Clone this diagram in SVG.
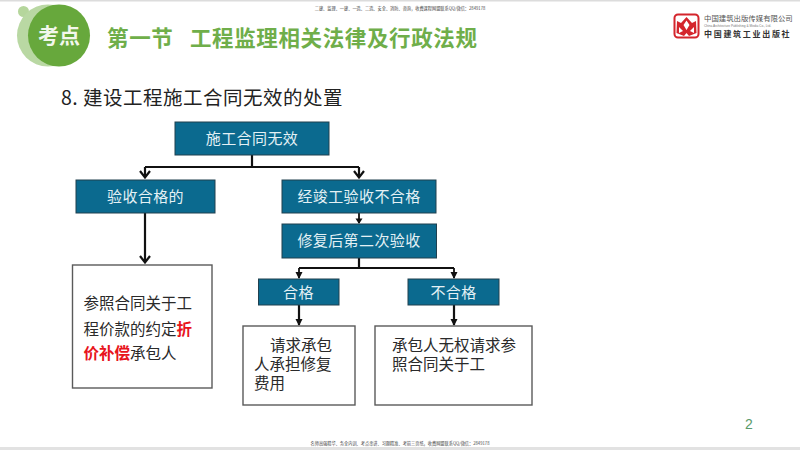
<svg xmlns="http://www.w3.org/2000/svg" width="800" height="450" viewBox="0 0 800 450">
<style>
text{font-family:"Noto Sans CJK SC","Liberation Sans",sans-serif}
.b{fill:#0b6a8f;stroke:#20404f;stroke-width:1}
.w{fill:#fff;stroke:#5a5a5a;stroke-width:1.4}
.bt{fill:#e4f1f5;font-size:15px;text-anchor:middle;letter-spacing:.4px}
.t{fill:#2a2a2a;font-size:15.5px}
.c{fill:none;stroke:#111;stroke-width:2.2}
.c2{fill:none;stroke:#111;stroke-width:1.8}
.s{fill:#444;font-size:4.2px;text-anchor:middle}
.r{fill:#e8141c;font-weight:700}
</style>
<rect width="800" height="450" fill="#fff"/>
<rect width="800" height="1.5" fill="#dcdcdc"/>
<rect y="447" width="800" height="3" fill="#e2e2e2"/>
<g id="badge">
<circle cx="23.500" cy="11.500" r="5.500" fill="#b5d69c"/>
<circle cx="48" cy="35.500" r="31" fill="#b9d8a3"/>
<circle cx="59" cy="35.500" r="31" fill="#67a83c"/>
<text x="59" y="42.500" font-size="21" font-weight="700" fill="#f2f7ec" text-anchor="middle">考点</text>
</g>
<text id="title" x="107" y="46" font-size="21.500" font-weight="700" fill="#6fae4a" xml:space="preserve" style="letter-spacing:.63px">第一节   工程监理相关法律及行政法规</text>
<text id="header-note" class="s" x="400" y="10">二建、监理、一建、一造、二造、安全、消防、咨询，收费课程网盟联系QQ/微信：2849178</text>
<g id="logo">
<rect x="674.500" y="14.500" width="24" height="23" rx="3.500" fill="#fff" stroke="#d4252c" stroke-width="2"/>
<path d="M686.500 17 L692 23 L696 21 L696.500 33 L689 36 L686.500 33 L684 36 L676.500 33 L677 21 L681 23 Z" fill="#d4252c"/>
<path d="M686.500 20.500 L689.500 25 L686.500 30 L683.500 25 Z M679 27 L683 31 L679 33 Z M694 27 L690 31 L694 33 Z" fill="#fff"/>
<text x="704" y="21" font-size="7.400" fill="#555">中国建筑出版传媒有限公司</text>
<text x="704" y="27" font-size="3.200" fill="#777" style="font-family:'Liberation Sans',sans-serif">China Architecture Publishing &amp; Media Co., Ltd.</text>
<text x="704" y="37" font-size="8" font-weight="700" fill="#333" style="letter-spacing:1.7px">中国建筑工业出版社</text>
</g>
<text id="heading" x="61" y="105" font-size="19.500" fill="#222" style="letter-spacing:.5px">8. 建设工程施工合同无效的处置</text>
<g id="connectors">
<path class="c" d="M252 155V167M145 167H359M145 167V177M359 167V177"/>
<path class="c" d="M140 171L145 177.500L150 171M354 171L359 177.500L364 171"/>
<path class="c" d="M145 213V262M140 256L145 262.500L150 256"/>
<path class="c2" d="M359 213V223"/>
<path d="M355.500 218.500H362.500L359 224Z" fill="#111"/>
<path class="c" d="M359 258V268"/>
<path class="c2" d="M299 268H454M299 268V278M454 268V278"/>
<path d="M295.500 272H302.500L299 279Z M450.500 272H457.500L454 279Z" fill="#111"/>
<path class="c" d="M299 305V325M454 305V325"/>
<path d="M295.500 319H302.500L299 326Z M450.500 319H457.500L454 326Z" fill="#111"/>
</g>
<g id="n1"><rect class="b" x="175" y="122" width="154" height="33"/><text class="bt" x="252" y="143.500">施工合同无效</text></g>
<g id="n2"><rect class="b" x="76" y="180" width="139" height="33"/><text class="bt" x="145.500" y="201.500">验收合格的</text></g>
<g id="n3"><rect class="b" x="282" y="180" width="154" height="33"/><text class="bt" x="359" y="201.500">经竣工验收不合格</text></g>
<g id="n4"><rect class="b" x="282" y="224" width="154.500" height="34"/><text class="bt" x="359" y="246">修复后第二次验收</text></g>
<g id="n5"><rect class="b" x="258.500" y="279" width="80.500" height="26"/><text class="bt" x="298.500" y="297.500">合格</text></g>
<g id="n6"><rect class="b" x="408" y="279" width="91" height="26"/><text class="bt" x="453.500" y="297.500">不合格</text></g>
<g id="n7"><rect class="w" x="72.500" y="265" width="139.500" height="123"/>
<text class="t"><tspan x="83.500" y="309">参照合同关于工</tspan><tspan x="83.500" y="335">程价款的约定<tspan class="r">折</tspan></tspan><tspan x="83.500" y="359"><tspan class="r">价补偿</tspan>承包人</tspan></text></g>
<g id="n8"><rect class="w" x="243" y="326" width="112" height="79"/>
<text class="t"><tspan x="270" y="351">请求承包</tspan><tspan x="254" y="370">人承担修复</tspan><tspan x="254" y="389">费用</tspan></text></g>
<g id="n9"><rect class="w" x="375" y="326" width="157" height="79"/>
<text class="t"><tspan x="392" y="351">承包人无权请求参</tspan><tspan x="392" y="370">照合同关于工</tspan></text></g>
<text id="page" x="745" y="429" font-size="14" fill="#5a9a6a" style="font-family:'Liberation Sans',sans-serif">2</text>
<text id="footer-note" class="s" x="400" y="444.500">名师高强精华、务全内训、考点串讲、习题精准、考前三页纸，收费网盟联系QQ/微信：2849178</text>
</svg>
